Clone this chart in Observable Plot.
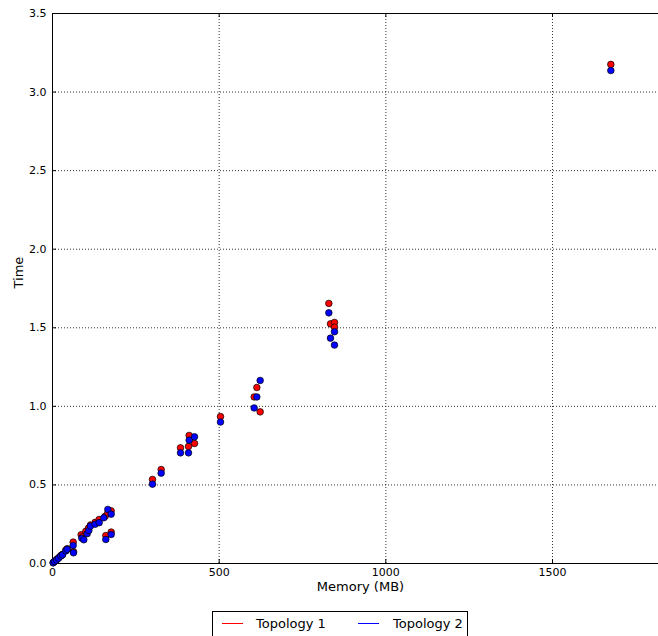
<!DOCTYPE html>
<html>
<head>
<meta charset="utf-8">
<script src="https://cdn.jsdelivr.net/npm/d3@7"></script>
<script src="https://cdn.jsdelivr.net/npm/@observablehq/plot@0.6"></script>
<style>
  html, body { margin: 0; padding: 0; background: white; overflow: hidden; }
  #chart { position: absolute; left: 0; top: 0; width: 668px; }
  #chart svg { max-width: none !important; width: 668px !important; height: 605px !important; }
  #legend {
    position: absolute; left: 212px; top: 611px; width: 256px; height: 30px;
    border: 1px solid black; box-sizing: border-box; background: white;
    font-family: "DejaVu Sans", sans-serif; font-size: 13px; color: #000;
  }
  .item { position: absolute; top: 4px; height: 16px; line-height: 16px; }
  .swatch { position: absolute; top: 11px; width: 21px; height: 0; border-top: 1px solid; }
</style>
</head>
<body>
<div id="chart"></div>
<div id="legend"></div>
<script>
// Topology 1 (red): memory (MB), time
const topo1Memory = [2, 6, 12, 18, 25, 30, 40, 44, 62, 63, 86, 90, 100, 108, 114, 128, 140, 158, 160, 166, 176, 176,
  300, 326, 384, 408, 410, 426, 504, 605, 613, 623, 829, 834, 846, 846, 1675];
const topo1Time = [0.006, 0.014, 0.025, 0.036, 0.05, 0.058, 0.085, 0.094, 0.136, 0.075, 0.183, 0.17, 0.205, 0.225, 0.245, 0.262, 0.28, 0.30, 0.178, 0.322, 0.335, 0.20,
  0.535, 0.598, 0.736, 0.745, 0.815, 0.764, 0.935, 1.06, 1.12, 0.965, 1.655, 1.525, 1.534, 1.504, 3.176];
// Topology 2 (blue)
const topo2Memory = [2, 6, 12, 18, 25, 30, 40, 44, 62, 63, 88, 94, 104, 109, 114, 128, 140, 154, 160, 166, 176, 176,
  300, 326, 384, 408, 410, 426, 504, 605, 613, 623, 829, 834, 846, 846, 1675];
const topo2Time = [0.004, 0.012, 0.022, 0.033, 0.047, 0.055, 0.08, 0.09, 0.115, 0.068, 0.161, 0.151, 0.19, 0.21, 0.238, 0.25, 0.26, 0.291, 0.153, 0.344, 0.314, 0.185,
  0.505, 0.575, 0.704, 0.704, 0.785, 0.806, 0.90, 0.99, 1.06, 1.165, 1.595, 1.434, 1.475, 1.39, 3.137];

const seriesNames = ["Topology 1", "Topology 2"];
const seriesColors = ["#ff0000", "#0000ff"];
const xTicks = [0, 500, 1000, 1500];
const yTicks = [0, 0.5, 1.0, 1.5, 2.0, 2.5, 3.0, 3.5];
const xLabel = "Memory (MB)";
const yLabel = "Time";

const t1 = topo1Memory.map((m, i) => ({memory: m, time: topo1Time[i]}));
const t2 = topo2Memory.map((m, i) => ({memory: m, time: topo2Time[i]}));

const H = 605, mTop = 13, mBottom = 42;
const plotH = H - mTop - mBottom;
const W = 668, mLeft = 52, mRight = 0;
const plotW = W - mLeft - mRight;
const tickLen = 4;

const chart = Plot.plot({
  width: W,
  height: H,
  marginLeft: mLeft,
  marginRight: mRight,
  marginTop: mTop,
  marginBottom: mBottom,
  style: {fontFamily: "DejaVu Sans, sans-serif", fontSize: "11px", background: "white", color: "black", overflow: "visible"},
  x: {domain: [0, 1848], ticks: xTicks},
  y: {domain: [0, 3.5], ticks: yTicks},
  marks: [
    Plot.gridX(xTicks.filter(d => d > 0), {stroke: "black", strokeOpacity: 0.8, strokeWidth: 1, strokeDasharray: "1,2"}),
    Plot.gridY(yTicks.filter(d => d > 0 && d < 3.5), {stroke: "black", strokeOpacity: 0.8, strokeWidth: 1, strokeDasharray: "1,2"}),
    // inward ticks
    Plot.tickX(xTicks, {x: d => d, insetTop: plotH - tickLen, stroke: "black"}),
    Plot.tickX(xTicks, {x: d => d, insetBottom: plotH - tickLen, stroke: "black"}),
    Plot.tickY(yTicks, {y: d => d, insetRight: plotW - tickLen, stroke: "black"}),
    Plot.axisX({ticks: xTicks, tickSize: 0, tickPadding: 5, label: null, tickFormat: d => String(d)}),
    Plot.axisY({ticks: yTicks, tickSize: 0, tickPadding: 6, label: null, tickFormat: d => d.toFixed(1)}),
    // frame (left, top, bottom)
    Plot.ruleX([0], {stroke: "black", strokeWidth: 1}),
    Plot.ruleY([0, 3.5], {stroke: "black", strokeWidth: 1}),
    Plot.dot(t1, {x: "memory", y: "time", r: 3.3, fill: seriesColors[0], stroke: "black", strokeWidth: 0.7}),
    Plot.dot(t2, {x: "memory", y: "time", r: 3.3, fill: seriesColors[1], stroke: "black", strokeWidth: 0.7}),
    Plot.text([xLabel], {frameAnchor: "bottom", dy: 27, fontSize: 13, fill: "black"}),
    Plot.text([yLabel], {frameAnchor: "left", dx: -34, rotate: -90, fontSize: 13, fill: "black"})
  ]
});
document.getElementById("chart").appendChild(chart);

// legend
const legend = document.getElementById("legend");
const swatchX = [9, 145];
const textX = [43, 180];
seriesNames.forEach((name, i) => {
  const sw = document.createElement("div");
  sw.className = "swatch";
  sw.style.left = swatchX[i] + "px";
  sw.style.borderTopColor = seriesColors[i];
  legend.appendChild(sw);
  const tx = document.createElement("div");
  tx.className = "item";
  tx.style.left = textX[i] + "px";
  tx.textContent = name;
  legend.appendChild(tx);
});
</script>
</body>
</html>
